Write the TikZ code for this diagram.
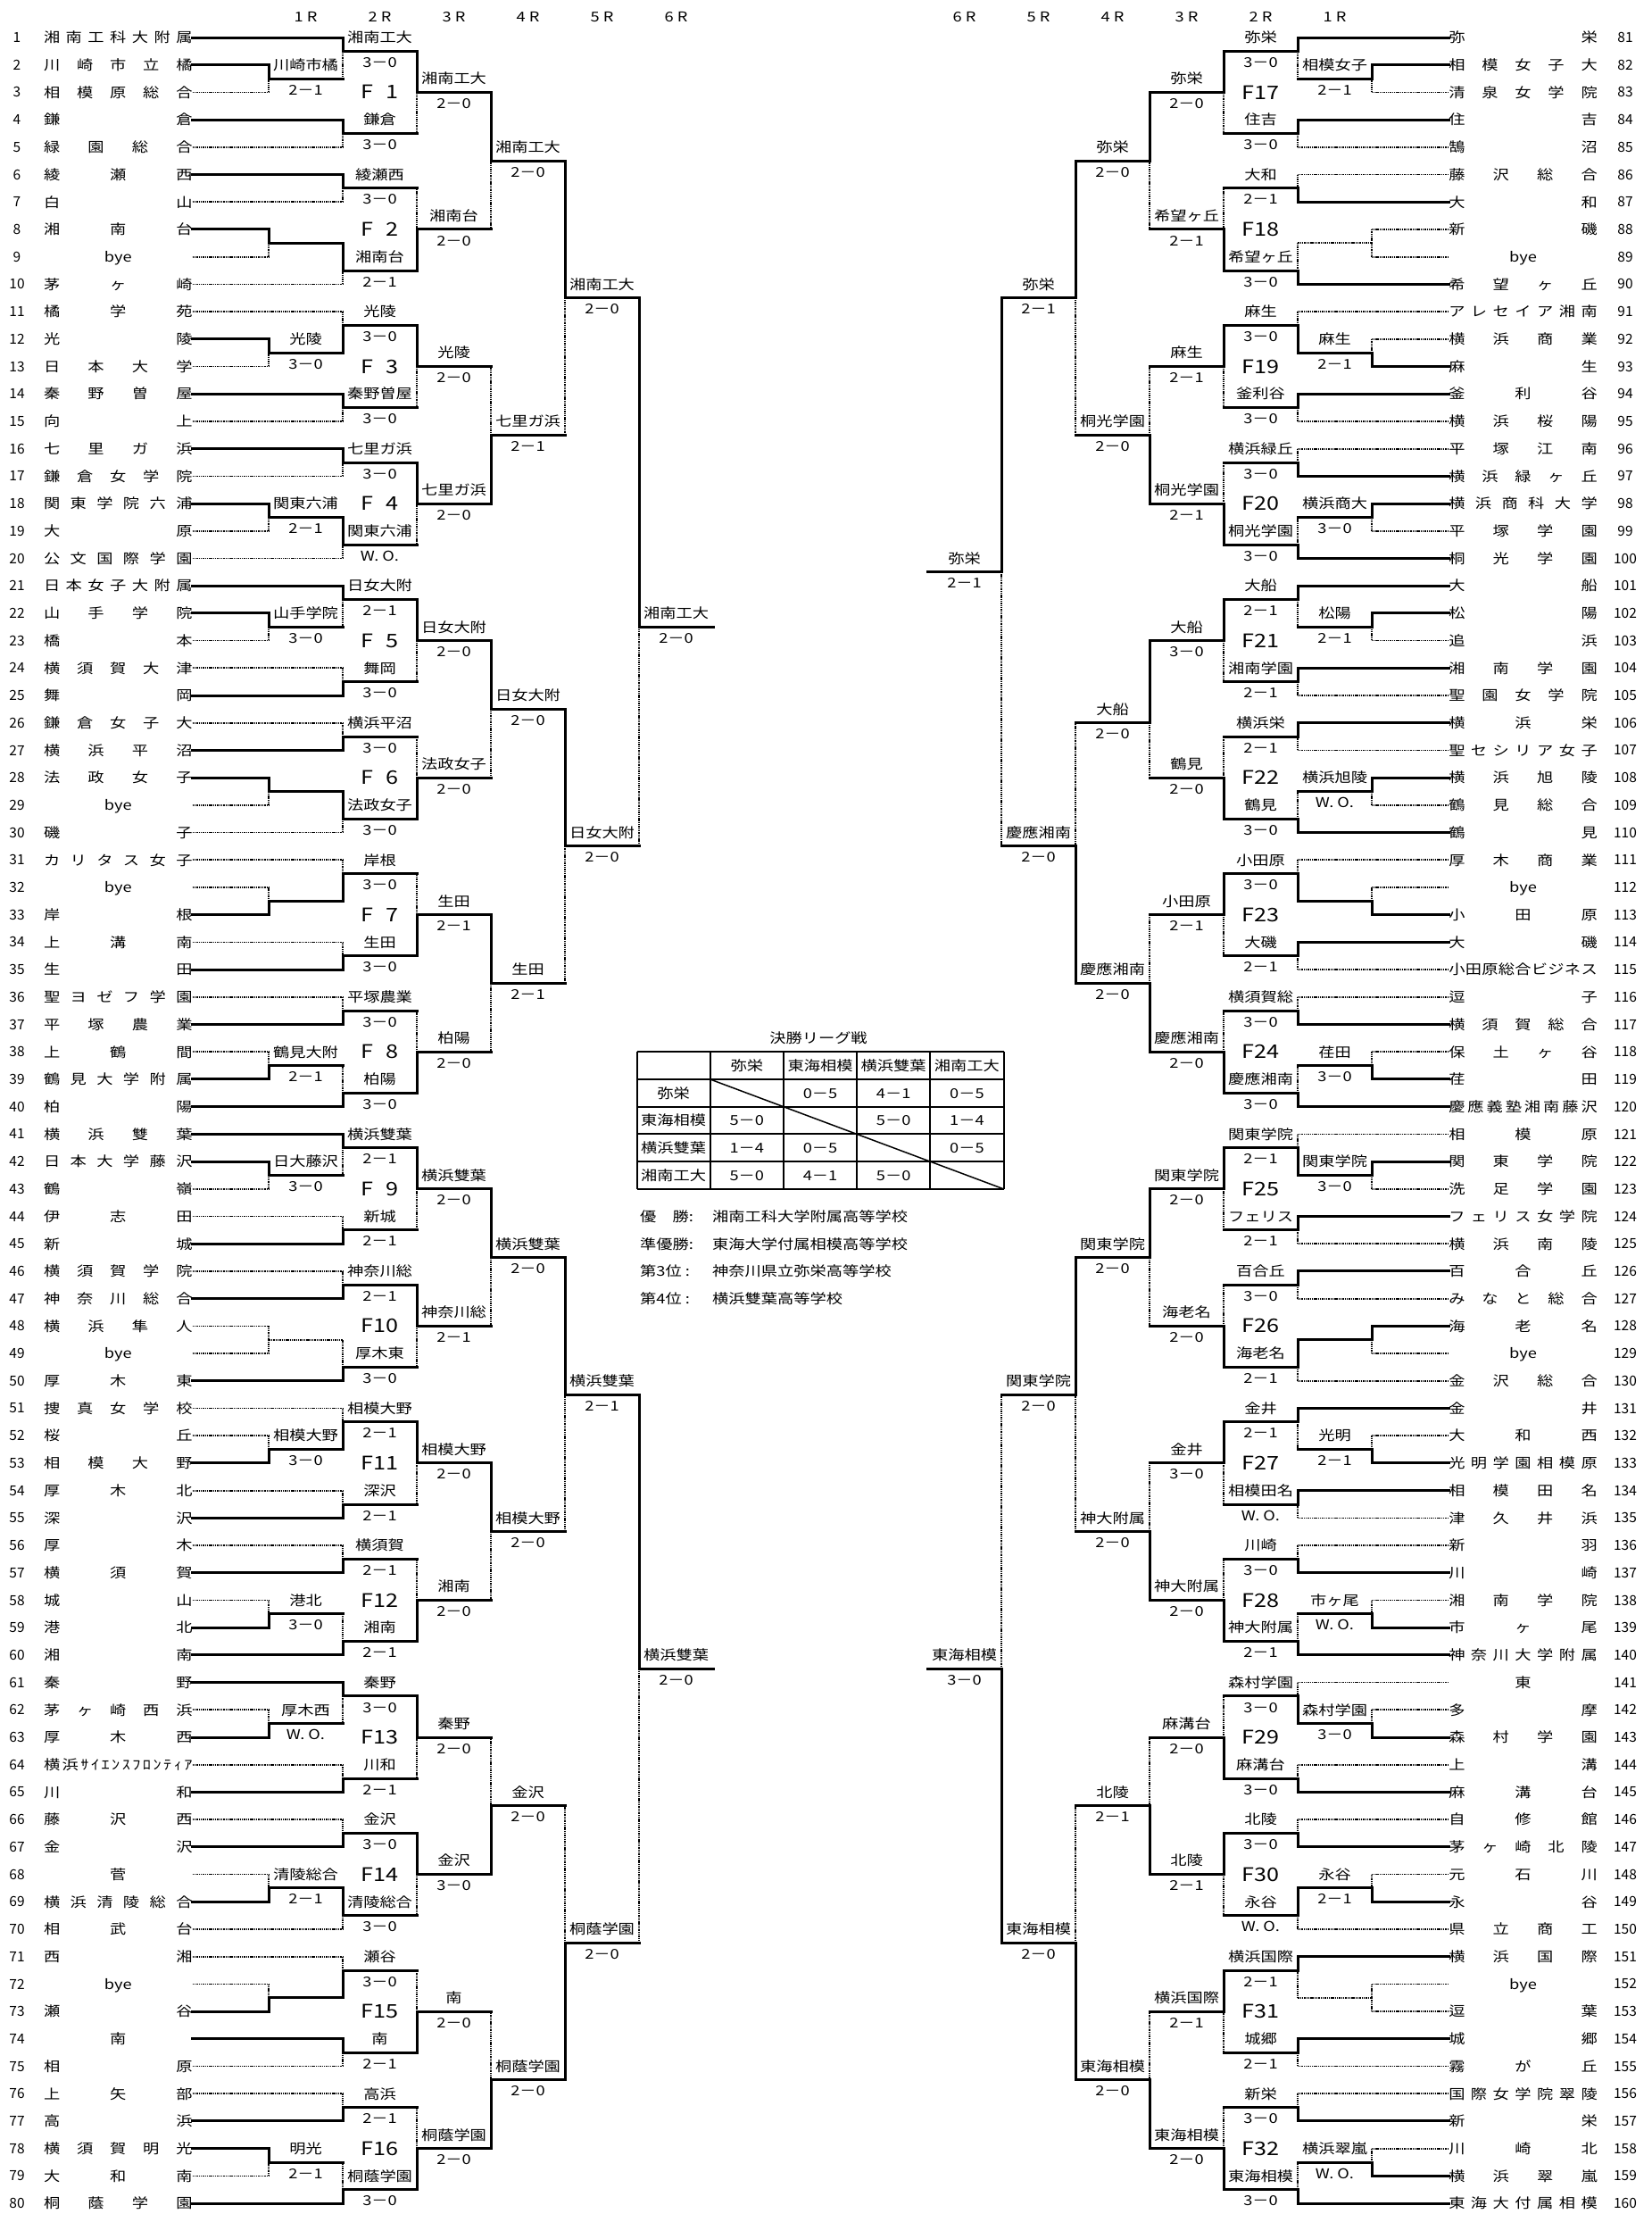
\documentclass[tikz,border=0pt]{standalone}
\usepackage{fontspec}
\setmainfont{Noto Sans CJK JP}[FakeStretch=1.2]
\newfontfamily\numfont{Noto Sans CJK JP}
\usepackage{tikz}

% school names are spread over the name column
\newcommand\byetxt{bye}
\def\spreadTest#1#2\spreadEnd{\ifx\relax#2\relax\makebox[166.5pt][c]{#1}\else\makebox[166.5pt][s]{#1\spreadRest#2\spreadEnd}\fi}
\def\spreadRest#1#2\spreadEnd{\hfill#1\ifx\relax#2\relax\else\spreadRest#2\spreadEnd\fi}
\newcommand\teamname[1]{\expandafter\spreadTest#1\spreadEnd}

% one match: [winner style]{side}{round}{winner row}{loser row}{out row}{winner}{score}
\newcounter{game}
\def\rowoff{0}
\newcommand\bout[8][won]{%
  \stepcounter{game}%
  \pgfmathsetmacro\mxa{919+(#2)*(83*#3-701)}%
  \pgfmathsetmacro\mxb{919+(#2)*(83*#3-618)}%
  \pgfmathsetmacro\mxm{(\mxa+\mxb)/2}%
  \pgfmathsetmacro\myw{#4-\rowoff}%
  \pgfmathsetmacro\myl{#5-\rowoff}%
  \pgfmathsetmacro\myo{#6-\rowoff}%
  \coordinate (gw\thegame) at (\mxa,\myw);
  \coordinate (gl\thegame) at (\mxa,\myl);
  \coordinate (go\thegame) at (\mxa,\myo);
  \coordinate (gn\thegame) at (\mxb,\myo);
  \draw[lost] (go\thegame) -- (gl\thegame);
  \draw[#1] (gw\thegame) -- (go\thegame) -- (gn\thegame);
  \node[lbl] (win\thegame) at (\mxm,\myo-0.5) {#7};
  \node[lbl] (score\thegame) at (\mxm,\myo+0.4) {#8};
}

\begin{document}
\fontsize{15.2}{16}\selectfont
\begin{tikzpicture}[
    x=1pt, y=-30.71pt,
    won/.style={line width=3pt,line cap=rect,line join=miter},
    lost/.style={line width=1.7pt,dash pattern=on 1.4pt off 0.9pt},
    team/.style={inner sep=0pt,text height=13.5pt,text depth=2pt},
    num/.style={inner sep=0pt,font=\numfont\fontsize{15.5}{16}\selectfont},
    lbl/.style={inner sep=0pt,text height=13.5pt,text depth=2pt},
    flbl/.style={inner sep=0pt,font=\fontsize{21}{22}\selectfont},
    rnd/.style={inner sep=0pt},
    tbl/.style={line width=2pt},
    diag/.style={line width=1.5pt}
    ]
    \path[use as bounding box,fill=white] (0,-0.3676) rectangle (1851,80.3876);
    % round heads
    \foreach \k in {1,...,6} {
        \node[rnd] (hl\k) at (259.5+83*\k,0.24) {\k\hspace{4pt}R};
        \node[rnd] (hr\k) at (1578.5-83*\k,0.24) {\k\hspace{4pt}R};
    }
    % left schools
    \foreach \n/\name/\k/\res in {1/湘南工科大附属/2/1,2/川崎市立橘/1/1,3/相模原総合/1/0,4/鎌倉/2/1,5/緑園総合/2/0,
        6/綾瀬西/2/1,7/白山/2/0,8/湘南台/1/1,9/\byetxt/1/0,10/茅ヶ崎/2/0,
        11/橘学苑/2/0,12/光陵/1/1,13/日本大学/1/0,14/秦野曽屋/2/1,15/向上/2/0,
        16/七里ガ浜/2/1,17/鎌倉女学院/2/0,18/関東学院六浦/1/1,19/大原/1/0,20/公文国際学園/2/0,
        21/日本女子大附属/2/1,22/山手学院/1/1,23/橋本/1/0,24/横須賀大津/2/0,25/舞岡/2/1,
        26/鎌倉女子大/2/0,27/横浜平沼/2/1,28/法政女子/1/1,29/\byetxt/1/0,30/磯子/2/0,
        31/カリタス女子/2/0,32/\byetxt/1/0,33/岸根/1/1,34/上溝南/2/0,35/生田/2/1,
        36/聖ヨゼフ学園/2/0,37/平塚農業/2/1,38/上鶴間/1/0,39/鶴見大学附属/1/1,40/柏陽/2/1,
        41/横浜雙葉/2/1,42/日本大学藤沢/1/1,43/鶴嶺/1/0,44/伊志田/2/0,45/新城/2/1,
        46/横須賀学院/2/0,47/神奈川総合/2/1,48/横浜隼人/1/0,49/\byetxt/1/0,50/厚木東/2/1,
        51/捜真女学校/2/0,52/桜丘/1/0,53/相模大野/1/1,54/厚木北/2/0,55/深沢/2/1,
        56/厚木/2/0,57/横須賀/2/1,58/城山/1/0,59/港北/1/1,60/湘南/2/1,
        61/秦野/2/1,62/茅ヶ崎西浜/1/0,63/厚木西/1/1,64/横浜ｻｲｴﾝｽﾌﾛﾝﾃｨｱ/2/0,65/川和/2/1,
        66/藤沢西/2/0,67/金沢/2/1,68/菅/1/0,69/横浜清陵総合/1/1,70/相武台/2/0,
        71/西湘/2/0,72/\byetxt/1/0,73/瀬谷/1/1,74/南/2/1,75/相原/2/0,
        76/上矢部/2/0,77/高浜/2/1,78/横須賀明光/1/1,79/大和南/1/0,80/桐蔭学園/2/1} {
        \node[num] (n\n) at (19,\n) {\n};
        \node[team] (t\n) at (132.25,\n) {\teamname{\name}};
        \pgfmathsetmacro\xk{218+83*\k}
        \ifnum\res=1 \draw[won] (t\n.east) -- (\xk,\n); \else \draw[lost] (t\n.east) -- (\xk,\n); \fi
    }
    % right schools
    \foreach \n/\name/\k/\res in {81/弥栄/2/1,82/相模女子大/1/1,83/清泉女学院/1/0,84/住吉/2/1,85/鵠沼/2/0,
        86/藤沢総合/2/0,87/大和/2/1,88/新磯/1/0,89/\byetxt/1/0,90/希望ヶ丘/2/1,
        91/アレセイア湘南/2/0,92/横浜商業/1/0,93/麻生/1/1,94/釜利谷/2/1,95/横浜桜陽/2/0,
        96/平塚江南/2/0,97/横浜緑ヶ丘/2/1,98/横浜商科大学/1/1,99/平塚学園/1/0,100/桐光学園/2/1,
        101/大船/2/1,102/松陽/1/1,103/追浜/1/0,104/湘南学園/2/1,105/聖園女学院/2/0,
        106/横浜栄/2/1,107/聖セシリア女子/2/0,108/横浜旭陵/1/1,109/鶴見総合/1/0,110/鶴見/2/1,
        111/厚木商業/2/0,112/\byetxt/1/0,113/小田原/1/1,114/大磯/2/1,115/小田原総合ビジネス/2/0,
        116/逗子/2/0,117/横須賀総合/2/1,118/保土ヶ谷/1/0,119/荏田/1/1,120/慶應義塾湘南藤沢/2/1,
        121/相模原/2/0,122/関東学院/1/1,123/洗足学園/1/0,124/フェリス女学院/2/1,125/横浜南陵/2/0,
        126/百合丘/2/1,127/みなと総合/2/0,128/海老名/1/1,129/\byetxt/1/0,130/金沢総合/2/0,
        131/金井/2/1,132/大和西/1/0,133/光明学園相模原/1/1,134/相模田名/2/1,135/津久井浜/2/0,
        136/新羽/2/0,137/川崎/2/1,138/湘南学院/1/0,139/市ヶ尾/1/1,140/神奈川大学附属/2/1,
        141/東/2/0,142/多摩/1/0,143/森村学園/1/1,144/上溝/2/0,145/麻溝台/2/1,
        146/自修館/2/0,147/茅ヶ崎北陵/2/1,148/元石川/1/0,149/永谷/1/1,150/県立商工/2/0,
        151/横浜国際/2/1,152/\byetxt/1/0,153/逗葉/1/0,154/城郷/2/1,155/霧が丘/2/0,
        156/国際女学院翠陵/2/0,157/新栄/2/1,158/川崎北/1/0,159/横浜翠嵐/1/1,160/東海大付属相模/2/1} {
        \node[num] (n\n) at (1821,\n-80) {\n};
        \node[team] (t\n) at (1706.5,\n-80) {\teamname{\name}};
        \pgfmathsetmacro\xk{1620-83*\k}
        \ifnum\res=1 \draw[won] (t\n.west) -- (\xk,\n-80); \else \draw[lost] (t\n.west) -- (\xk,\n-80); \fi
    }
    % block labels
    \foreach \f in {1,...,16} {
        \node[flbl] (F\f) at (425.5,5*\f-2) {F\ifnum\f<10 \phantom{0}\fi\f};
    }
    \foreach \f in {17,...,32} {
        \node[flbl] (F\f) at (1412.5,5*\f-82) {F\f};
    }
    % left side
    % F1
    \bout{1}{1}{2}{3}{2.5}{川崎市橘}{2－1}
    \bout{1}{2}{1}{2.5}{1.5}{湘南工大}{3－0}
    \bout{1}{2}{4}{5}{4.5}{鎌倉}{3－0}
    \bout{1}{3}{1.5}{4.5}{3}{湘南工大}{2－0}
    % F2
    \bout{1}{2}{6}{7}{6.5}{綾瀬西}{3－0}
    \bout{1}{1}{8}{9}{8.5}{}{}
    \bout{1}{2}{8.5}{10}{9.5}{湘南台}{2－1}
    \bout{1}{3}{9.5}{6.5}{8}{湘南台}{2－0}
    \bout{1}{4}{3}{8}{5.5}{湘南工大}{2－0}
    % F3
    \bout{1}{1}{12}{13}{12.5}{光陵}{3－0}
    \bout{1}{2}{12.5}{11}{11.5}{光陵}{3－0}
    \bout{1}{2}{14}{15}{14.5}{秦野曽屋}{3－0}
    \bout{1}{3}{11.5}{14.5}{13}{光陵}{2－0}
    % F4
    \bout{1}{2}{16}{17}{16.5}{七里ガ浜}{3－0}
    \bout{1}{1}{18}{19}{18.5}{関東六浦}{2－1}
    \bout{1}{2}{18.5}{20}{19.5}{関東六浦}{W. O.}
    \bout{1}{3}{16.5}{19.5}{18}{七里ガ浜}{2－0}
    \bout{1}{4}{18}{13}{15.5}{七里ガ浜}{2－1}
    \bout{1}{5}{5.5}{15.5}{10.5}{湘南工大}{2－0}
    % F5
    \bout{1}{1}{22}{23}{22.5}{山手学院}{3－0}
    \bout{1}{2}{21}{22.5}{21.5}{日女大附}{2－1}
    \bout{1}{2}{25}{24}{24.5}{舞岡}{3－0}
    \bout{1}{3}{21.5}{24.5}{23}{日女大附}{2－0}
    % F6
    \bout{1}{2}{27}{26}{26.5}{横浜平沼}{3－0}
    \bout{1}{1}{28}{29}{28.5}{}{}
    \bout{1}{2}{28.5}{30}{29.5}{法政女子}{3－0}
    \bout{1}{3}{29.5}{26.5}{28}{法政女子}{2－0}
    \bout{1}{4}{23}{28}{25.5}{日女大附}{2－0}
    % F7
    \bout{1}{1}{33}{32}{32.5}{}{}
    \bout{1}{2}{32.5}{31}{31.5}{岸根}{3－0}
    \bout{1}{2}{35}{34}{34.5}{生田}{3－0}
    \bout{1}{3}{34.5}{31.5}{33}{生田}{2－1}
    % F8
    \bout{1}{2}{37}{36}{36.5}{平塚農業}{3－0}
    \bout{1}{1}{39}{38}{38.5}{鶴見大附}{2－1}
    \bout{1}{2}{40}{38.5}{39.5}{柏陽}{3－0}
    \bout{1}{3}{39.5}{36.5}{38}{柏陽}{2－0}
    \bout{1}{4}{33}{38}{35.5}{生田}{2－1}
    \bout{1}{5}{25.5}{35.5}{30.5}{日女大附}{2－0}
    \bout{1}{6}{10.5}{30.5}{22.5}{湘南工大}{2－0}
    % F9
    \bout{1}{1}{42}{43}{42.5}{日大藤沢}{3－0}
    \bout{1}{2}{41}{42.5}{41.5}{横浜雙葉}{2－1}
    \bout{1}{2}{45}{44}{44.5}{新城}{2－1}
    \bout{1}{3}{41.5}{44.5}{43}{横浜雙葉}{2－0}
    % F10
    \bout{1}{2}{47}{46}{46.5}{神奈川総}{2－1}
    \bout[lost]{1}{1}{48}{49}{48.5}{}{}
    \bout{1}{2}{50}{48.5}{49.5}{厚木東}{3－0}
    \bout{1}{3}{46.5}{49.5}{48}{神奈川総}{2－1}
    \bout{1}{4}{43}{48}{45.5}{横浜雙葉}{2－0}
    % F11
    \bout{1}{1}{53}{52}{52.5}{相模大野}{3－0}
    \bout{1}{2}{52.5}{51}{51.5}{相模大野}{2－1}
    \bout{1}{2}{55}{54}{54.5}{深沢}{2－1}
    \bout{1}{3}{51.5}{54.5}{53}{相模大野}{2－0}
    % F12
    \bout{1}{2}{57}{56}{56.5}{横須賀}{2－1}
    \bout{1}{1}{59}{58}{58.5}{港北}{3－0}
    \bout{1}{2}{60}{58.5}{59.5}{湘南}{2－1}
    \bout{1}{3}{59.5}{56.5}{58}{湘南}{2－0}
    \bout{1}{4}{53}{58}{55.5}{相模大野}{2－0}
    \bout{1}{5}{45.5}{55.5}{50.5}{横浜雙葉}{2－1}
    % F13
    \bout{1}{1}{63}{62}{62.5}{厚木西}{W. O.}
    \bout{1}{2}{61}{62.5}{61.5}{秦野}{3－0}
    \bout{1}{2}{65}{64}{64.5}{川和}{2－1}
    \bout{1}{3}{61.5}{64.5}{63}{秦野}{2－0}
    % F14
    \bout{1}{2}{67}{66}{66.5}{金沢}{3－0}
    \bout{1}{1}{69}{68}{68.5}{清陵総合}{2－1}
    \bout{1}{2}{68.5}{70}{69.5}{清陵総合}{3－0}
    \bout{1}{3}{66.5}{69.5}{68}{金沢}{3－0}
    \bout{1}{4}{68}{63}{65.5}{金沢}{2－0}
    % F15
    \bout{1}{1}{73}{72}{72.5}{}{}
    \bout{1}{2}{72.5}{71}{71.5}{瀬谷}{3－0}
    \bout{1}{2}{74}{75}{74.5}{南}{2－1}
    \bout{1}{3}{74.5}{71.5}{73}{南}{2－0}
    % F16
    \bout{1}{2}{77}{76}{76.5}{高浜}{2－1}
    \bout{1}{1}{78}{79}{78.5}{明光}{2－1}
    \bout{1}{2}{80}{78.5}{79.5}{桐蔭学園}{3－0}
    \bout{1}{3}{79.5}{76.5}{78}{桐蔭学園}{2－0}
    \bout{1}{4}{78}{73}{75.5}{桐蔭学園}{2－0}
    \bout{1}{5}{75.5}{65.5}{70.5}{桐蔭学園}{2－0}
    \bout{1}{6}{50.5}{70.5}{60.5}{横浜雙葉}{2－0}
    % right side
    \def\rowoff{80}
    % F17
    \bout{-1}{1}{82}{83}{82.5}{相模女子}{2－1}
    \bout{-1}{2}{81}{82.5}{81.5}{弥栄}{3－0}
    \bout{-1}{2}{84}{85}{84.5}{住吉}{3－0}
    \bout{-1}{3}{81.5}{84.5}{83}{弥栄}{2－0}
    % F18
    \bout{-1}{2}{87}{86}{86.5}{大和}{2－1}
    \bout[lost]{-1}{1}{88}{89}{88.5}{}{}
    \bout{-1}{2}{90}{88.5}{89.5}{希望ヶ丘}{3－0}
    \bout{-1}{3}{89.5}{86.5}{88}{希望ヶ丘}{2－1}
    \bout{-1}{4}{83}{88}{85.5}{弥栄}{2－0}
    % F19
    \bout{-1}{1}{93}{92}{92.5}{麻生}{2－1}
    \bout{-1}{2}{92.5}{91}{91.5}{麻生}{3－0}
    \bout{-1}{2}{94}{95}{94.5}{釜利谷}{3－0}
    \bout{-1}{3}{91.5}{94.5}{93}{麻生}{2－1}
    % F20
    \bout{-1}{2}{97}{96}{96.5}{横浜緑丘}{3－0}
    \bout{-1}{1}{98}{99}{98.5}{横浜商大}{3－0}
    \bout{-1}{2}{100}{98.5}{99.5}{桐光学園}{3－0}
    \bout{-1}{3}{99.5}{96.5}{98}{桐光学園}{2－1}
    \bout{-1}{4}{98}{93}{95.5}{桐光学園}{2－0}
    \bout{-1}{5}{85.5}{95.5}{90.5}{弥栄}{2－1}
    % F21
    \bout{-1}{1}{102}{103}{102.5}{松陽}{2－1}
    \bout{-1}{2}{101}{102.5}{101.5}{大船}{2－1}
    \bout{-1}{2}{104}{105}{104.5}{湘南学園}{2－1}
    \bout{-1}{3}{101.5}{104.5}{103}{大船}{3－0}
    % F22
    \bout{-1}{2}{106}{107}{106.5}{横浜栄}{2－1}
    \bout{-1}{1}{108}{109}{108.5}{横浜旭陵}{W. O.}
    \bout{-1}{2}{110}{108.5}{109.5}{鶴見}{3－0}
    \bout{-1}{3}{109.5}{106.5}{108}{鶴見}{2－0}
    \bout{-1}{4}{103}{108}{106}{大船}{2－0}
    % F23
    \bout{-1}{1}{113}{112}{112.5}{}{}
    \bout{-1}{2}{112.5}{111}{111.5}{小田原}{3－0}
    \bout{-1}{2}{114}{115}{114.5}{大磯}{2－1}
    \bout{-1}{3}{111.5}{114.5}{113}{小田原}{2－1}
    % F24
    \bout{-1}{2}{117}{116}{116.5}{横須賀総}{3－0}
    \bout{-1}{1}{119}{118}{118.5}{荏田}{3－0}
    \bout{-1}{2}{120}{118.5}{119.5}{慶應湘南}{3－0}
    \bout{-1}{3}{119.5}{116.5}{118}{慶應湘南}{2－0}
    \bout{-1}{4}{118}{113}{115.5}{慶應湘南}{2－0}
    \bout{-1}{5}{115.5}{106}{110.5}{慶應湘南}{2－0}
    \bout{-1}{6}{90.5}{110.5}{100.5}{弥栄}{2－1}
    % F25
    \bout{-1}{1}{122}{123}{122.5}{関東学院}{3－0}
    \bout{-1}{2}{122.5}{121}{121.5}{関東学院}{2－1}
    \bout{-1}{2}{124}{125}{124.5}{フェリス}{2－1}
    \bout{-1}{3}{121.5}{124.5}{123}{関東学院}{2－0}
    % F26
    \bout{-1}{2}{126}{127}{126.5}{百合丘}{3－0}
    \bout{-1}{1}{128}{129}{128.5}{}{}
    \bout{-1}{2}{128.5}{130}{129.5}{海老名}{2－1}
    \bout{-1}{3}{129.5}{126.5}{128}{海老名}{2－0}
    \bout{-1}{4}{123}{128}{125.5}{関東学院}{2－0}
    % F27
    \bout{-1}{1}{133}{132}{132.5}{光明}{2－1}
    \bout{-1}{2}{131}{132.5}{131.5}{金井}{2－1}
    \bout{-1}{2}{134}{135}{134.5}{相模田名}{W. O.}
    \bout{-1}{3}{131.5}{134.5}{133}{金井}{3－0}
    % F28
    \bout{-1}{2}{137}{136}{136.5}{川崎}{3－0}
    \bout{-1}{1}{139}{138}{138.5}{市ヶ尾}{W. O.}
    \bout{-1}{2}{140}{138.5}{139.5}{神大附属}{2－1}
    \bout{-1}{3}{139.5}{136.5}{138}{神大附属}{2－0}
    \bout{-1}{4}{138}{133}{135.5}{神大附属}{2－0}
    \bout{-1}{5}{125.5}{135.5}{130.5}{関東学院}{2－0}
    % F29
    \bout{-1}{1}{143}{142}{142.5}{森村学園}{3－0}
    \bout{-1}{2}{142.5}{141}{141.5}{森村学園}{3－0}
    \bout{-1}{2}{145}{144}{144.5}{麻溝台}{3－0}
    \bout{-1}{3}{144.5}{141.5}{143}{麻溝台}{2－0}
    % F30
    \bout{-1}{2}{147}{146}{146.5}{北陵}{3－0}
    \bout{-1}{1}{149}{148}{148.5}{永谷}{2－1}
    \bout{-1}{2}{148.5}{150}{149.5}{永谷}{W. O.}
    \bout{-1}{3}{146.5}{149.5}{148}{北陵}{2－1}
    \bout{-1}{4}{148}{143}{145.5}{北陵}{2－1}
    % F31
    \bout[lost]{-1}{1}{153}{152}{152.5}{}{}
    \bout{-1}{2}{151}{152.5}{151.5}{横浜国際}{2－1}
    \bout{-1}{2}{154}{155}{154.5}{城郷}{2－1}
    \bout{-1}{3}{151.5}{154.5}{153}{横浜国際}{2－1}
    % F32
    \bout{-1}{2}{157}{156}{156.5}{新栄}{3－0}
    \bout{-1}{1}{159}{158}{158.5}{横浜翠嵐}{W. O.}
    \bout{-1}{2}{160}{158.5}{159.5}{東海相模}{3－0}
    \bout{-1}{3}{159.5}{156.5}{158}{東海相模}{2－0}
    \bout{-1}{4}{158}{153}{155.5}{東海相模}{2－0}
    \bout{-1}{5}{155.5}{145.5}{150.5}{東海相模}{2－0}
    \bout{-1}{6}{150.5}{130.5}{140.5}{東海相模}{3－0}
    % final league
    \node[lbl] (title) at (917,37.5) {決勝リーグ戦};
    \foreach \j in {0,...,5} {
        \draw[tbl] (713.5+82.2*\j,38) -- (713.5+82.2*\j,43);
    }
    \foreach \i in {38,...,43} {
        \draw[tbl] (713.5,\i) -- (1124.5,\i);
    }
    \draw[diag] (795.7,39) -- (1124.5,43);
    \foreach \j/\s in {1/弥栄,2/東海相模,3/横浜雙葉,4/湘南工大} {
        \node[lbl] (col\j) at (754.6+82.2*\j,38.5) {\s};
        \node[lbl] (row\j) at (754.6,38.5+\j) {\s};
    }
    \foreach \i/\j/\s in {1/2/0－5,1/3/4－1,1/4/0－5,2/1/5－0,2/3/5－0,2/4/1－4,
        3/1/1－4,3/2/0－5,3/4/0－5,4/1/5－0,4/2/4－1,4/3/5－0} {
        \node[lbl] (res\i\j) at (754.6+82.2*\j,38.5+\i) {\s};
    }
    % places
    \foreach \i/\a/\b in {44/優　勝:/湘南工科大学附属高等学校,45/準優勝:/東海大学付属相模高等学校,
        46/第3位 :/神奈川県立弥栄高等学校,47/第4位 :/横浜雙葉高等学校} {
        \node[lbl,anchor=west] (place\i) at (717,\i) {\a};
        \node[lbl,anchor=west] (school\i) at (798,\i) {\b};
    }
\end{tikzpicture}
\end{document}
